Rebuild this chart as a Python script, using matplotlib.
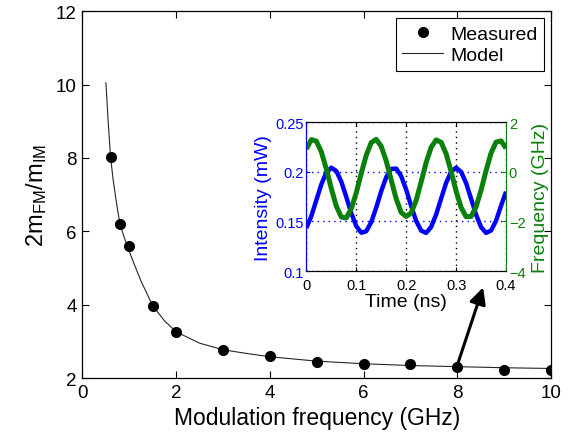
import matplotlib
matplotlib.use("Agg")
import matplotlib.pyplot as plt

plt.rcParams['font.family'] = ['Liberation Sans', 'DejaVu Sans']
plt.rcParams['mathtext.default'] = 'regular'

# ---- main data ----
meas_f = [0.6, 0.8, 1.0, 1.5, 2.0, 3.0, 4.0, 5.0, 6.0, 7.0, 8.0, 9.0, 10.0]
meas_r = [8.02, 6.2, 5.6, 3.97, 3.26, 2.77, 2.59, 2.45, 2.37, 2.38, 2.31, 2.23, 2.23]

model_f = [0.5, 0.55, 0.6, 0.65, 0.7, 0.75, 0.8, 0.9, 1.0, 1.1, 1.25, 1.5, 1.75,
           2.0, 2.5, 3.0, 3.5, 4.0, 5.0, 6.0, 7.0, 8.0, 9.0, 10.0]
model_r = [10.05, 8.95, 8.02, 7.45, 7.0, 6.58, 6.2, 5.8, 5.45, 5.12, 4.64, 3.97, 3.56,
           3.26, 2.95, 2.77, 2.67, 2.58, 2.46, 2.39, 2.34, 2.31, 2.28, 2.26]

main_xticks = [0, 2, 4, 6, 8, 10]
main_yticks = [2, 4, 6, 8, 10, 12]

arrow_start = (8.0, 2.35)
arrow_end = (8.55, 4.47)

# ---- inset data ----
t_ns = [i * 0.01 for i in range(41)]
intensity_mw = [0.1434, 0.1554, 0.1714, 0.1873, 0.1993, 0.2042, 0.2009, 0.1902, 0.1747, 0.1584,
                0.1453, 0.1386, 0.1401, 0.1493, 0.1640, 0.1805, 0.1946, 0.2029, 0.2033, 0.1957,
                0.1820, 0.1655, 0.1505, 0.1407, 0.1384, 0.1444, 0.1570, 0.1731, 0.1889, 0.2001,
                0.2042, 0.2000, 0.1887, 0.1729, 0.1568, 0.1442, 0.1384, 0.1408, 0.1507, 0.1658,
                0.1800]
freq_ghz = [0.92, 1.30, 1.24, 0.81, 0.12, -0.67, -1.38, -1.82, -1.86, -1.49,
            -0.84, -0.06, 0.67, 1.18, 1.31, 1.03, 0.44, -0.33, -1.09, -1.64,
            -1.80, -1.66, -1.15, -0.40, 0.38, 0.99, 1.29, 1.19, 0.73, 0.01,
            -0.78, -1.44, -1.81, -1.80, -1.41, -0.74, 0.05, 0.76, 1.20, 1.25,
            0.95]
inset_xticks = [0, 0.1, 0.2, 0.3, 0.4]
inset_xlabels = ['0', '0.1', '0.2', '0.3', '0.4']
inset_lticks = [0.1, 0.15, 0.2, 0.25]
inset_llabels = ['0.1', '0.15', '0.2', '0.25']
inset_rticks = [-4, -2, 0, 2]
inset_rlabels = ['\u22124', '\u22122', '0', '2']

BLUE = '#0000ff'
GREEN = '#0a800a'

fig = plt.figure(figsize=(5.78, 4.35), dpi=100)
ax = fig.add_axes([0.1427, 0.1287, 0.8106, 0.843])

ax.plot(model_f, model_r, color='0.15', lw=0.8, label='Model', zorder=2)
ax.plot(meas_f, meas_r, 'o', color='k', ms=7, label='Measured', zorder=3)

ax.set_xlim(0, 10)
ax.set_ylim(2, 12)
ax.set_xticks(main_xticks)
ax.set_yticks(main_yticks)
ax.tick_params(direction='in', top=True, right=True, length=5, width=0.8,
               labelsize=13.5, pad=4)
for s in ax.spines.values():
    s.set_linewidth(0.9)
ax.set_xlabel('Modulation frequency (GHz)', fontsize=16.5, labelpad=4)
ax.set_ylabel('2m$_{FM}$/m$_{IM}$', fontsize=17, labelpad=5)

h, l = ax.get_legend_handles_labels()
leg = ax.legend([h[1], h[0]], [l[1], l[0]], loc='upper right', fontsize=14,
                fancybox=False, edgecolor='k', framealpha=1, borderaxespad=0.35,
                handlelength=2.1, handletextpad=0.35, labelspacing=0.2,
                borderpad=0.35)
leg.get_frame().set_linewidth(0.8)

ax.annotate('', xy=arrow_end, xytext=arrow_start,
            arrowprops=dict(arrowstyle='-|>,head_length=0.7,head_width=0.35',
                            lw=2.2, color='k', shrinkA=0, shrinkB=0,
                            mutation_scale=14), zorder=4)

# ---- inset ----
axi = fig.add_axes([0.530, 0.3747, 0.3455, 0.3419])
axi.plot(t_ns, intensity_mw, color=BLUE, lw=3.2, solid_capstyle='butt')
axi.set_xlim(0, 0.4)
axi.set_ylim(0.1, 0.25)
axi.set_xticks(inset_xticks)
axi.set_xticklabels(inset_xlabels)
axi.set_yticks(inset_lticks)
axi.set_yticklabels(inset_llabels)
axi.xaxis.grid(True, color='k', linestyle=(0, (1, 3)), lw=1.0)
axi.yaxis.grid(True, color=BLUE, linestyle=(0, (1, 3)), lw=1.0)
axi.tick_params(direction='in', top=True, length=3, labelsize=10.5, pad=2)
axi.tick_params(axis='x', pad=5)
axi.tick_params(axis='y', colors=BLUE)
axi.set_xlabel('Time (ns)', fontsize=14, labelpad=1)
axi.set_ylabel('Intensity (mW)', fontsize=14, color=BLUE, labelpad=2)
axi.spines['left'].set_color(BLUE)
axi.spines['right'].set_visible(False)

axr = axi.twinx()
axr.plot(t_ns, freq_ghz, color=GREEN, lw=3.6, solid_capstyle='butt')
axr.set_ylim(-4, 2)
axr.set_yticks(inset_rticks)
axr.set_yticklabels(inset_rlabels)
axr.tick_params(axis='y', direction='in', length=3, labelsize=10.5, pad=2, colors=GREEN)
axr.set_ylabel('Frequency (GHz)', fontsize=14, color=GREEN, labelpad=5)
axr.spines['right'].set_color(GREEN)
axr.spines['left'].set_color(BLUE)

fig.savefig('out.png', dpi=100)
